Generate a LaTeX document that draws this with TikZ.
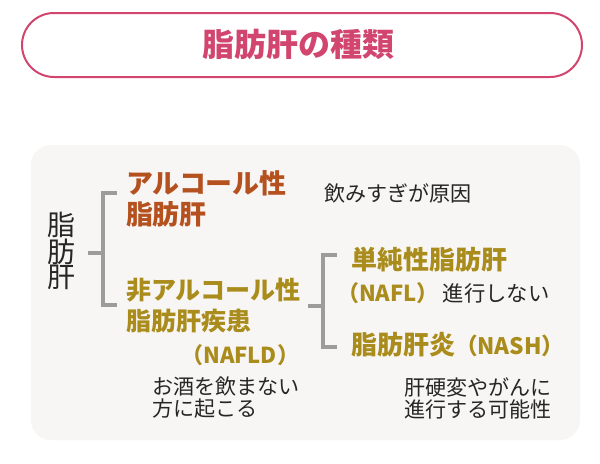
\documentclass[tikz,border=0pt]{standalone}
\usepackage{fontspec}
\setmainfont{Noto Sans CJK JP}
\definecolor{pinkc}{HTML}{D1456E}
\definecolor{orangec}{HTML}{B4511F}
\definecolor{goldc}{HTML}{A98C1B}
\definecolor{grayc}{HTML}{9C9C9C}
\definecolor{panelc}{HTML}{F8F6F4}
\tikzset{
  lbl/.style={inner sep=0pt, outer sep=0pt},
  orangelbl/.style={lbl, text=orangec, font=\fontsize{20.2pt}{23pt}\selectfont\bfseries, anchor=west},
  goldlbl/.style={lbl, text=goldc, font=\fontsize{18.8pt}{23pt}\selectfont\bfseries, anchor=west},
  blacklbl/.style={lbl, text=black!85, font=\fontsize{15.8pt}{16.5pt}\selectfont, align=left, anchor=west},
  brk/.style={draw=grayc, line width=3pt},
}
\begin{document}
\begin{tikzpicture}[x=0.75pt, y=-0.75pt]
\useasboundingbox (0,0) rectangle (600,464);
\fill[white] (0,0) rectangle (600,464);
% title pill
\draw[pinkc, line width=1.5pt, fill=white, rounded corners=24pt] (22,13) rectangle (582,77);
\node[lbl, text=pinkc, font=\fontsize{24pt}{28pt}\selectfont\bfseries] (title) at (298,44) {脂肪肝の種類};
% panel
\fill[panelc, rounded corners=15pt] (31,145) rectangle (580,440);
% root
\node[lbl, text=black!85, font=\fontsize{21pt}{19.2pt}\selectfont, align=center] (root) at (61,251) {脂\\肪\\肝};
% first bracket
\coordinate (b1s) at (88,253);
\coordinate (b1m) at (103,253);
\coordinate (b1t) at (103,193);
\coordinate (b1b) at (103,305);
\coordinate (b1te) at (117,193);
\coordinate (b1be) at (117,305);
\draw[brk] (b1s) -- (b1m);
\draw[brk] (b1te) -- (b1t) -- (b1b) -- (b1be);
% alcoholic
\node[orangelbl] (alc1) at (126,183) {アルコール性};
\node[orangelbl] (alc2) at (126,214) {脂肪肝};
\node[blacklbl] (alccause) at (324,193) {飲みすぎが原因};
% non-alcoholic
\node[goldlbl] (nafld1) at (126,290) {非アルコール性};
\node[goldlbl] (nafld2) at (126,321) {脂肪肝疾患};
\node[lbl, text=goldc, font=\fontsize{16.5pt}{20pt}\selectfont\bfseries, anchor=east] (nafld3) at (299,355) {（NAFLD）};
\node[blacklbl] (nafldnote) at (152,398) {お酒を飲まない\\方に起こる};
% second bracket
\coordinate (b2s) at (308,306);
\coordinate (b2m) at (323,306);
\coordinate (b2t) at (323,255);
\coordinate (b2b) at (323,347);
\coordinate (b2te) at (337,255);
\coordinate (b2be) at (337,347);
\draw[brk] (b2s) -- (b2m);
\draw[brk] (b2te) -- (b2t) -- (b2b) -- (b2be);
% NAFL
\node[goldlbl, font=\fontsize{19.5pt}{23pt}\selectfont\bfseries] (nafl1) at (351,260) {単純性脂肪肝};
\node[lbl, anchor=west] (nafl2) at (337,293) {\textcolor{goldc}{\fontsize{16.5pt}{20pt}\selectfont\bfseries （NAFL）}\hspace{3pt}\textcolor{black!85}{\fontsize{16pt}{20pt}\selectfont 進行しない}};
% NASH
\node[goldlbl, font=\fontsize{19.5pt}{23pt}\selectfont\bfseries] (nash) at (351,345) {脂肪肝炎\fontsize{17pt}{20pt}\selectfont（NASH）};
\node[blacklbl] (nashnote) at (404,398) {肝硬変やがんに\\進行する可能性};
\end{tikzpicture}
\end{document}
